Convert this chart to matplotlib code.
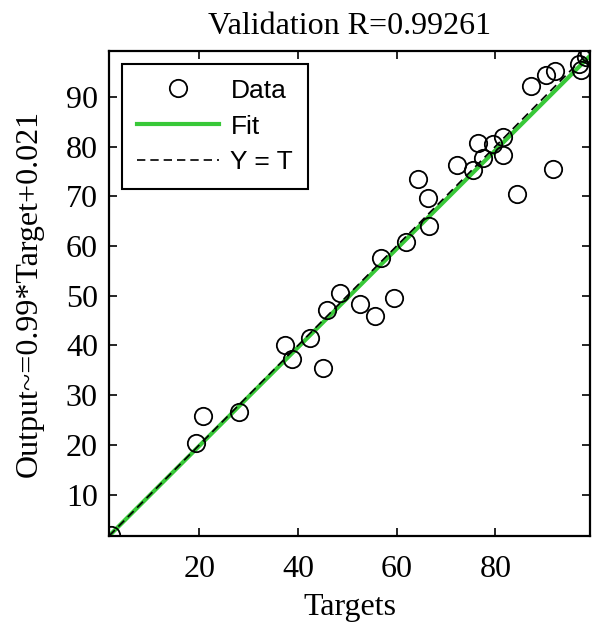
import matplotlib
matplotlib.use("Agg")
import matplotlib.pyplot as plt
import numpy as np

# Data
targets = [2.2, 19.3, 20.8, 28.0, 37.4, 38.8, 42.5, 45.0, 45.9, 48.6,
           52.5, 55.7, 59.5, 56.9, 62.0, 66.6, 66.3, 64.4, 72.3, 75.5,
           76.4, 77.6, 79.5, 81.6, 81.6, 84.4, 91.8, 87.2, 90.3, 92.2,
           96.9, 97.3, 98.3, 98.9]
outputs = [2.0, 20.3, 25.8, 26.6, 40.0, 37.3, 41.6, 35.4, 47.1, 50.6,
           48.3, 45.9, 49.6, 57.6, 60.8, 64.1, 69.6, 73.4, 76.2, 75.3,
           80.8, 77.6, 80.6, 81.9, 78.2, 70.4, 75.4, 92.1, 94.3, 95.1,
           96.5, 95.3, 98.0, 98.7]
fit_slope = 0.99
fit_intercept = 0.021
axis_lim = [1.7, 99.2]
x_ticks = [20, 40, 60, 80]
y_ticks = [10, 20, 30, 40, 50, 60, 70, 80, 90]
title_text = "Validation R=0.99261"
xlabel_text = "Targets"
ylabel_text = "Output~=0.99*Target+0.021"

serif = ["Liberation Serif", "DejaVu Serif"]
sans = ["Liberation Sans", "DejaVu Sans"]

fig = plt.figure(figsize=(5.99, 6.24), dpi=100)
ax = fig.add_axes([109/599, 1 - 536/624, (590-109)/599, (536-51)/624])

xs = np.array(axis_lim)
ax.plot(targets, outputs, linestyle="none", marker="o", markersize=12.5,
        markerfacecolor="none", markeredgecolor="black", markeredgewidth=1.3,
        label="Data", zorder=4, clip_on=True)
ax.plot(xs, fit_slope * xs + fit_intercept, color="#38c838", linewidth=3.0,
        label="Fit", zorder=2)
ax.plot(xs, xs, color="black", linestyle=(0, (5, 3)), linewidth=1.2,
        label="Y = T", zorder=3)

ax.set_xlim(axis_lim)
ax.set_ylim(axis_lim)
ax.set_xticks(x_ticks)
ax.set_yticks(y_ticks)
ax.tick_params(direction="in", length=6, width=1.2, top=True, right=True,
               labelsize=23, pad=8)
ax.tick_params(axis="x", pad=14)
for lab in ax.get_xticklabels() + ax.get_yticklabels():
    lab.set_family(serif)
for sp in ax.spines.values():
    sp.set_linewidth(1.6)

ax.set_title(title_text, fontsize=23, family=serif, pad=12)
ax.set_xlabel(xlabel_text, fontsize=23, family=serif, labelpad=6)
ax.set_ylabel(ylabel_text, fontsize=23, family=serif, labelpad=16)

leg = ax.legend(loc="upper left", prop={"family": sans, "size": 19},
                frameon=True, fancybox=False, edgecolor="black",
                handlelength=3.1, handletextpad=0.45, labelspacing=0.45,
                borderpad=0.55, borderaxespad=0.5, framealpha=1)
leg.get_frame().set_linewidth(1.5)

fig.savefig("out.png", dpi=100)
